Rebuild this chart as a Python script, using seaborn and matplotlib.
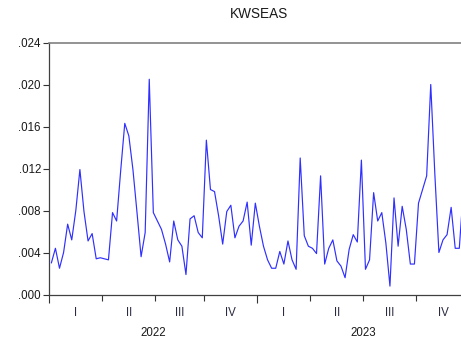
import matplotlib
matplotlib.use("Agg")
import matplotlib.pyplot as plt
import matplotlib.transforms as mtransforms
import numpy as np
import pandas as pd
import seaborn as sns

# Weekly KWSEAS series, 2022-2023
kwseas = [
    0.0030, 0.0044, 0.0025, 0.0040, 0.0067, 0.0052, 0.0080, 0.0119, 0.0079, 0.0051,
    0.0058, 0.0034, 0.0035, 0.0034, 0.0033, 0.0078, 0.0070, 0.0118, 0.0163, 0.0151,
    0.0119, 0.0078, 0.0036, 0.0059, 0.0205, 0.0078, 0.0070, 0.0062, 0.0048, 0.0031,
    0.0070, 0.0052, 0.0046, 0.0019, 0.0072, 0.0075, 0.0059, 0.0054, 0.0147, 0.0100,
    0.0098, 0.0075, 0.0048, 0.0079, 0.0085, 0.0054, 0.0065, 0.0070, 0.0088, 0.0047,
    0.0087, 0.0065, 0.0046, 0.0033, 0.0025, 0.0025, 0.0041, 0.0029, 0.0051, 0.0033,
    0.0024, 0.0130, 0.0056, 0.0046, 0.0044, 0.0039, 0.0113, 0.0029, 0.0044, 0.0052,
    0.0032, 0.0027, 0.0016, 0.0043, 0.0057, 0.0050, 0.0128, 0.0024, 0.0033, 0.0097,
    0.0070, 0.0078, 0.0049, 0.0008, 0.0092, 0.0046, 0.0084, 0.0062, 0.0029, 0.0029,
    0.0087, 0.0100, 0.0113, 0.0200, 0.0115, 0.0040, 0.0052, 0.0057, 0.0083, 0.0044,
    0.0044, 0.0100,
]

# Observations per quarter, and the labels drawn under the axis
quarter_obs = [13, 13, 12, 13, 13, 13, 13, 13]
quarter_labels = ["I", "II", "III", "IV", "I", "II", "III", "IV"]
years = ["2022", "2023"]
y_ticks = [0.000, 0.004, 0.008, 0.012, 0.016, 0.020, 0.024]

df = pd.DataFrame({"obs": np.arange(len(kwseas)), "KWSEAS": kwseas})

sns.set_theme(style="white")
plt.rcParams["font.family"] = ["Liberation Sans", "DejaVu Sans"]

fig = plt.figure(figsize=(4.61, 3.45), dpi=100)
ax = fig.add_axes([49.3 / 461, 1 - 294.5 / 345, 420.2 / 461, (294.5 - 42.5) / 345])

sns.lineplot(data=df, x="obs", y="KWSEAS", ax=ax, color="#2f2fff", linewidth=0.85)

# quarter boundaries / centres in observation units
edges = np.concatenate([[0], np.cumsum(quarter_obs)]) - 0.5
centres = (edges[:-1] + edges[1:]) / 2
ax.set_xlim(edges[0], edges[-1])
ax.set_ylim(0, 0.024)

ax.set_xticks(edges)
ax.set_xticklabels([])
ax.set_xticks(centres, minor=True)
ax.set_xticklabels(quarter_labels, minor=True)
ax.tick_params(axis="x", which="major", direction="out", length=4.5, width=0.8,
               color="#333333", bottom=True, top=False)
ax.tick_params(axis="x", which="minor", length=0, pad=9, labelsize=8.3,
               labelcolor="#2a2a40")

# longer tick marks at the year boundaries
year_edges = [0, 4, 8]
for k, line in enumerate(ax.xaxis.get_majorticklines()):
    if (k // 2) in year_edges:
        line.set_markersize(6.0)

ax.set_yticks(y_ticks)
ax.set_yticklabels([f"{v:.3f}".lstrip("0") for v in y_ticks])
ax.tick_params(axis="y", direction="out", length=4.5, width=0.8, color="#333333",
               left=True, labelsize=8.3, labelcolor="#1a1a1a", pad=1.5)

ax.set_xlabel("")
ax.set_ylabel("")

# year labels centred under each year
trans = mtransforms.blended_transform_factory(ax.transData, ax.transAxes)
year_centres = [(edges[0] + edges[4]) / 2, (edges[4] + edges[8]) / 2]
for yc, yr in zip(year_centres, years):
    ax.text(yc, -38 / 252.0, yr, transform=trans, ha="center", va="center",
            fontsize=8.3, color="#1a1a1a")

for side in ["left", "bottom"]:
    ax.spines[side].set_color("#404040")
    ax.spines[side].set_linewidth(0.9)
for side in ["top", "right"]:
    ax.spines[side].set_color("#808080")
    ax.spines[side].set_linewidth(1.2)
    ax.spines[side].set_visible(True)

fig.text(259 / 461, 1 - 13.5 / 345, "KWSEAS", ha="center", va="center",
         fontsize=9.8, color="#1a1a1a")

fig.savefig("out.png", dpi=100)
